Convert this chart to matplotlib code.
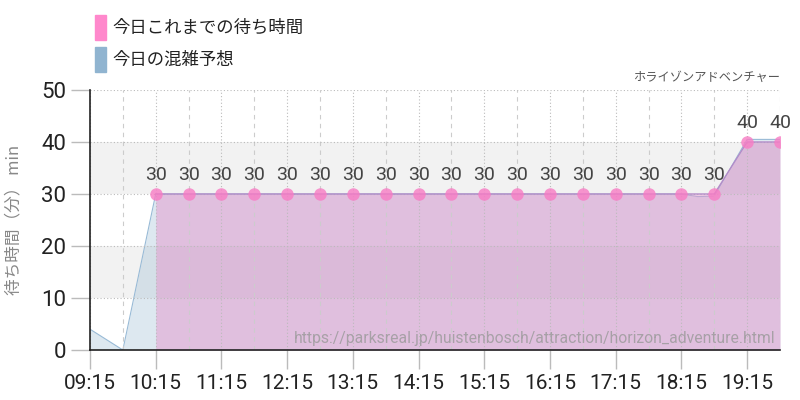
import numpy as np
import matplotlib
matplotlib.use('Agg')
import matplotlib.pyplot as plt
from matplotlib.ticker import FixedLocator, FuncFormatter
from matplotlib.patches import Rectangle

# today's actual wait times (every 30 min)
actual_times = ['10:15', '10:45', '11:15', '11:45', '12:15', '12:45', '13:15', '13:45',
                '14:15', '14:45', '15:15', '15:45', '16:15', '16:45', '17:15', '17:45',
                '18:15', '18:45', '19:15', '19:45']
actual_wait = [30, 30, 30, 30, 30, 30, 30, 30, 30, 30, 30, 30, 30, 30, 30, 30, 30, 30, 40, 40]

# predicted congestion
pred_times = ['09:15', '09:45', '10:15', '10:45', '11:15', '11:45', '12:15', '12:45',
              '13:15', '13:45', '14:15', '14:45', '15:15', '15:45', '16:15', '16:45',
              '17:15', '17:45', '18:15', '18:30', '18:45', '19:15', '19:45']
pred_wait = [4, 0, 30, 30, 30, 30, 30, 30, 30, 30, 30, 30, 30, 30, 30, 30,
             30, 30, 30, 29.5, 29.6, 40.5, 40.5]

x_ticks = ['09:15', '10:15', '11:15', '12:15', '13:15', '14:15', '15:15',
           '16:15', '17:15', '18:15', '19:15']
y_ticks = [0, 10, 20, 30, 40, 50]

title = 'ホライゾンアドベンチャー'
legend_labels = ['今日これまでの待ち時間', '今日の混雑予想']
ylabel = '待ち時間（分） min'
url = 'https://parksreal.jp/huistenbosch/attraction/horizon_adventure.html'


def to_hours(s):
    h, m = s.split(':')
    return int(h) + int(m) / 60.0


ax_x = np.array([to_hours(t) for t in actual_times])
px = np.array([to_hours(t) for t in pred_times])
tx = [to_hours(t) for t in x_ticks]

jp = ['Noto Sans CJK JP', 'DejaVu Sans']
num = ['Roboto']

fig = plt.figure(figsize=(8, 4), dpi=100)
ax = fig.add_axes([90 / 800, 50 / 400, 690 / 800, 260 / 400])

# alternating bands
for lo in (10, 30):
    ax.axhspan(lo, lo + 10, color='#f2f2f2', zorder=0.2, lw=0)

# prediction area
ax.fill_between(px, pred_wait, 0, color='#90b4d0', alpha=0.3, zorder=1.5, lw=0)
ax.plot(px, pred_wait, color='#98bad6', lw=0.8, zorder=1.6)

# actual area
ax.fill_between(ax_x, actual_wait, 0, color='#e397cd', alpha=0.5, zorder=1.7, lw=0)
ax.plot(ax_x, actual_wait, color='#b48ac8', lw=1, zorder=3)
ax.plot(ax_x, actual_wait, 'o', ms=9, color='#f87cc4', alpha=0.8, mec='none', zorder=4)

for xv, yv in zip(ax_x, actual_wait):
    ax.annotate(str(yv), (xv, yv), xytext=(0, 7), textcoords='offset points',
                ha='center', va='bottom', fontsize=14, color='#444444', family=num)

ax.set_xlim(px[0], px[-1])
ax.set_ylim(0, 50)
ax.xaxis.set_major_locator(FixedLocator(tx))
ax.xaxis.set_minor_locator(FixedLocator([t + 0.5 for t in tx]))
ax.xaxis.set_major_formatter(FuncFormatter(lambda v, p: '%02d:%02d' % (int(v), round((v % 1) * 60))))
ax.set_yticks(y_ticks)

ax.grid(which='major', axis='both', ls=(0, (1, 2)), color='#bbbbbb', lw=0.8, zorder=2)
ax.grid(which='minor', axis='x', ls=(0, (4, 4)), color='#cccccc', lw=0.8, zorder=2)
ax.set_axisbelow(False)

ax.tick_params(axis='both', which='major', length=14, color='#bbbbbb', width=1,
               labelsize=16, labelcolor='#222222', pad=3)
ax.tick_params(axis='x', which='major', labelsize=15)
ax.tick_params(axis='x', which='minor', length=0)
for lab in ax.get_xticklabels() + ax.get_yticklabels():
    lab.set_family(num)

for s in ('top', 'right'):
    ax.spines[s].set_visible(False)
for s in ('left', 'bottom'):
    ax.spines[s].set_color('#222222')
    ax.spines[s].set_linewidth(1.2)
    ax.spines[s].set_zorder(5)

ax.set_ylabel(ylabel, family=jp, fontsize=12, color='#888888', labelpad=14)

ax.text(1.0, 1.025, title, transform=ax.transAxes, ha='right', va='bottom',
        fontsize=8.8, color='#555555', family=jp)
ax.text(0.993, 0.045, url, transform=ax.transAxes, ha='right', va='center',
        fontsize=11.3, color='#999999', alpha=0.8, family=['Roboto'], zorder=6)

# legend boxes
for i, (lab, col) in enumerate(zip(legend_labels, ['#ff88cc', '#90b4d0'])):
    yb = 1 - (15 + i * 32 + 25) / 400
    fig.patches.append(Rectangle((95 / 800, yb), 11 / 800, 25 / 400, color=col,
                                 transform=fig.transFigure))
    fig.text(112 / 800, yb + 12.5 / 400, lab, ha='left', va='center',
             fontsize=12.5, color='#222222', family=jp)

fig.savefig('out.png', dpi=100)
